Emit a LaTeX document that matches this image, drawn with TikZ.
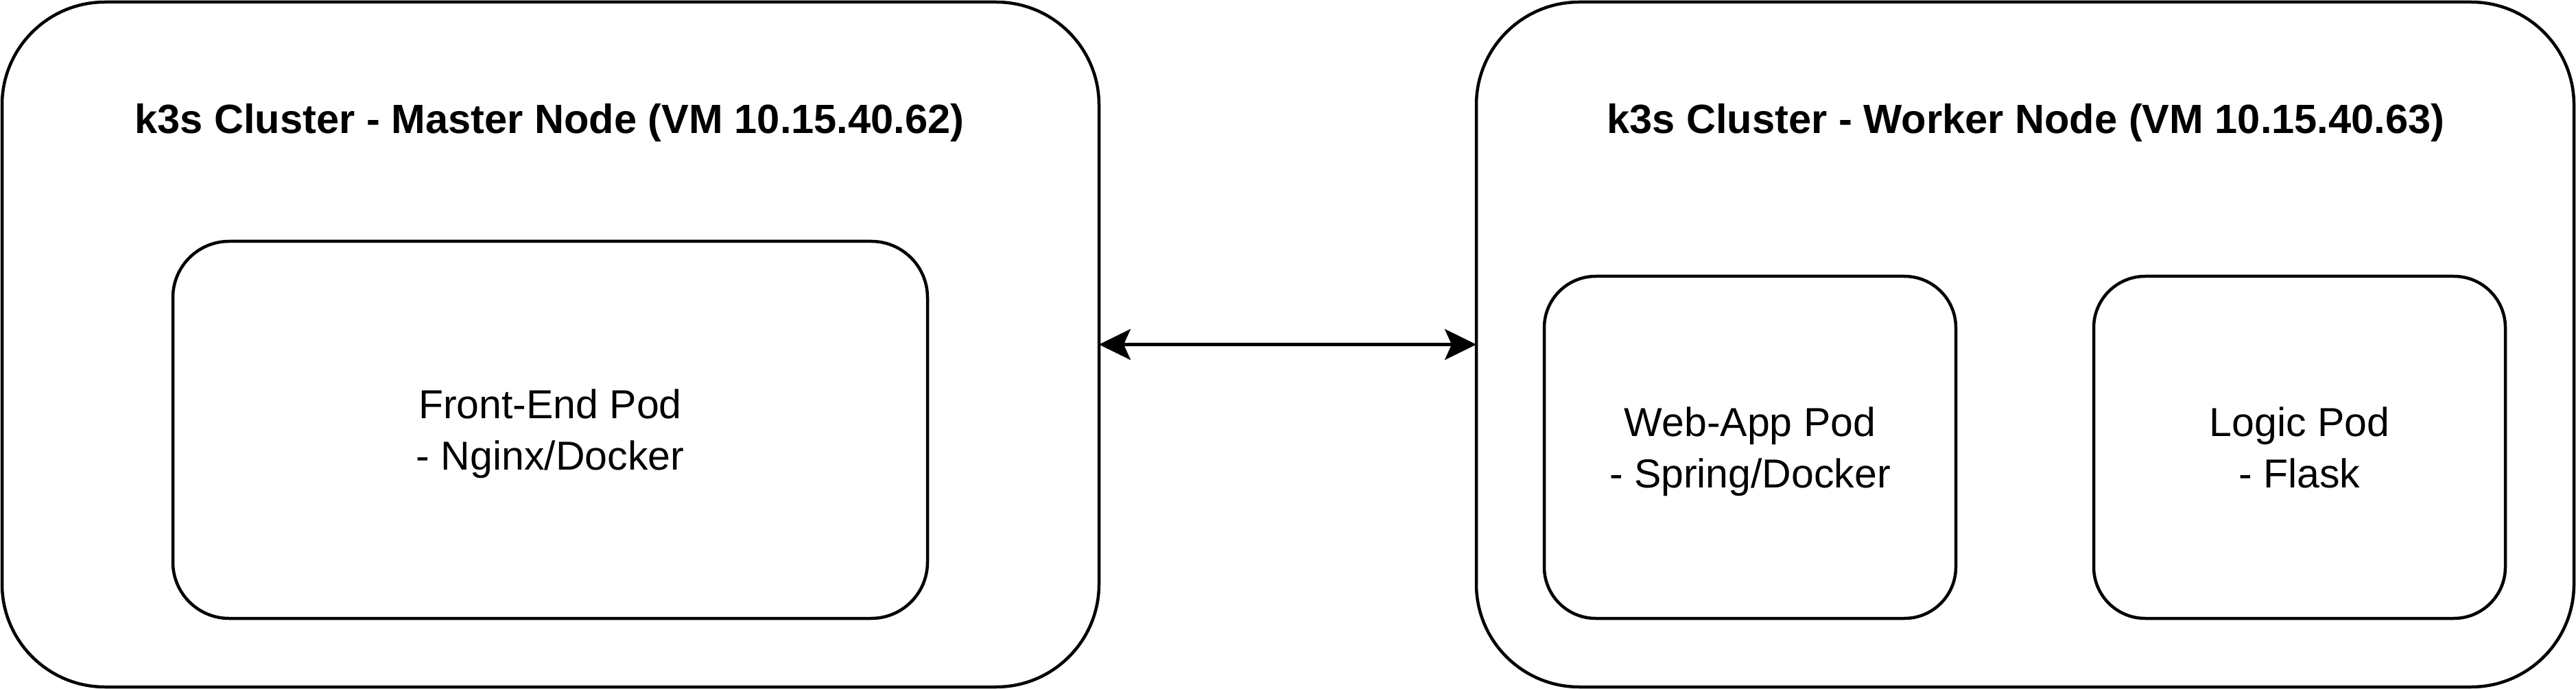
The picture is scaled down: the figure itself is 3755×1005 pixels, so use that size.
\documentclass[tikz,border=0pt]{standalone}
\usepackage{fontspec}
\setmainfont{Liberation Sans}
\usetikzlibrary{arrows.meta}
\begin{document}
\begin{tikzpicture}[x=0.5pt,y=-0.5pt,
  box/.style={draw=black, line width=2.25pt, fill=white, inner sep=0pt, outer sep=0pt},
  vmbox/.style={box, rounded corners=75pt, minimum width=800pt, minimum height=499.5pt},
  podbox/.style={box, align=center, font=\fontsize{29.5pt}{37.5pt}\selectfont},
  titletext/.style={font=\fontsize{29.8pt}{37.5pt}\selectfont\bfseries, inner sep=0pt, anchor=base},
  link/.style={line width=2.25pt, >={Stealth[length=23pt, width=22.5pt, inset=5pt]}, <->}
]
\useasboundingbox (0,0) rectangle (3755,1005);
% cluster boxes
\node[vmbox, minimum width=799.5pt] (master) at (802.5,502.5) {};
\node[vmbox] (worker) at (2952,502.5) {};
% titles
\node[titletext] (mtitle) at (801,195) {k3s Cluster - Master Node (VM 10.15.40.62)};
\node[titletext] (wtitle) at (2953,195) {k3s Cluster - Worker Node (VM 10.15.40.63)};
% pods
\node[podbox, rounded corners=41pt, minimum width=550pt, minimum height=275pt] (front) at (802,627)
  {\vphantom{A}Front-End Pod\\\smash{- Nginx/Docker}};
\node[podbox, rounded corners=37.5pt, minimum width=300pt, minimum height=249.5pt] (web) at (2551,652.5)
  {\vphantom{A}Web-App Pod\\\smash{- Spring/Docker}};
\node[podbox, rounded corners=37.5pt, minimum width=300pt, minimum height=249.5pt] (logic) at (3352,652.5)
  {\vphantom{A}Logic Pod\\\smash{- Flask}};
% connector
\draw[link] (master.east) -- (worker.west);
\end{tikzpicture}
\end{document}
